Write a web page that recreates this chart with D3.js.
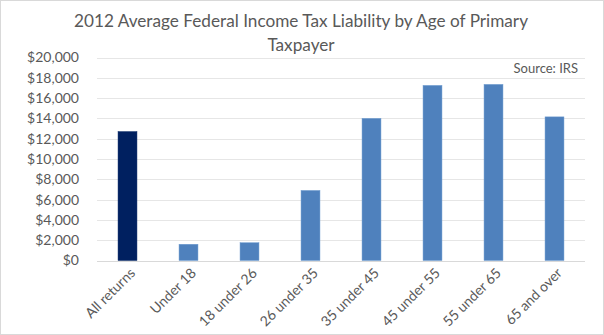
<!DOCTYPE html>
<html>
<head>
<meta charset="utf-8">
<script src="https://cdn.jsdelivr.net/npm/d3@7"></script>
<style>
  body { margin: 0; background: #fff; }
  svg { display: block; font-family: Lato, "Open Sans", sans-serif; }
</style>
</head>
<body>
<div id="chart"></div>
<script>
const width = 604;
const height = 335;

const categories = ['All returns', 'Under 18', '18 under 26', '26 under 35',
    '35 under 45', '45 under 55', '55 under 65', '65 and over'];
const values = [12700, 1600, 1750, 6900, 14000, 17250, 17350, 14150];
const yTicks = [0, 2000, 4000, 6000, 8000, 10000, 12000, 14000, 16000, 18000, 20000];

const margin = { top: 57.5, right: 19, bottom: 74, left: 97 };

const svg = d3.select('#chart').append('svg')
    .attr('width', width)
    .attr('height', height);

// chart border
svg.append('rect')
    .attr('x', 0.5).attr('y', 0.5)
    .attr('width', width - 1).attr('height', height - 1)
    .attr('fill', 'white')
    .attr('stroke', '#d9d9d9');

const x = d3.scaleBand()
    .domain(categories)
    .range([margin.left, width - margin.right])
    .paddingInner(0.69)
    .paddingOuter(0.345);

const y = d3.scaleLinear()
    .domain([0, 20000])
    .range([height - margin.bottom - 0.5, margin.top]);

// gridlines
svg.append('g')
    .selectAll('line')
    .data(yTicks)
    .enter()
    .append('line')
    .attr('x1', margin.left)
    .attr('x2', width - margin.right)
    .attr('y1', d => Math.round(y(d)) + 0.5)
    .attr('y2', d => Math.round(y(d)) + 0.5)
    .attr('stroke', d => d === 0 ? '#d9d9d9' : '#e6e6e6');

// y axis labels
const yAxis = d3.axisLeft(y)
    .tickValues(yTicks)
    .tickSize(0)
    .tickPadding(0)
    .tickFormat(d => '$' + d3.format(',')(d));

svg.append('g')
    .attr('transform', `translate(${margin.left - 18}, 0)`)
    .call(yAxis)
    .call(g => g.select('.domain').remove())
    .selectAll('text')
    .style('font-size', '14px')
    .style('font-family', 'Lato, "Open Sans", sans-serif')
    .attr('fill', '#595959');

// bars
svg.append('g')
    .selectAll('rect')
    .data(values)
    .enter()
    .append('rect')
    .attr('x', (d, i) => x(categories[i]))
    .attr('y', d => y(d))
    .attr('width', x.bandwidth())
    .attr('height', d => y(0) - y(d))
    .attr('fill', (d, i) => i === 0 ? '#002060' : '#4f81bd')
    .attr('stroke', (d, i) => i === 0 ? '#0a2a66' : '#6f9bd0')
    .attr('stroke-width', 0.5);

// x labels, rotated
svg.append('g')
    .selectAll('text')
    .data(categories)
    .enter()
    .append('text')
    .attr('transform', d => `translate(${x(d) + x.bandwidth() / 2 + 5}, ${y(0) + 10}) rotate(-45)`)
    .attr('text-anchor', 'end')
    .attr('dy', '0.35em')
    .style('font-size', '14px')
    .attr('fill', '#595959')
    .text(d => d);

// title
const title = svg.append('text')
    .attr('x', 301)
    .attr('text-anchor', 'middle')
    .style('font-size', '17.2px')
    .attr('fill', '#595959');
title.append('tspan').attr('x', 301).attr('y', 27)
    .text('2012 Average Federal Income Tax Liability by Age of Primary');
title.append('tspan').attr('x', 301).attr('y', 51)
    .text('Taxpayer');

svg.append('text')
    .attr('x', 578)
    .attr('y', 73)
    .attr('text-anchor', 'end')
    .style('font-size', '13px')
    .attr('fill', '#595959')
    .text('Source: IRS');
</script>
</body>
</html>
